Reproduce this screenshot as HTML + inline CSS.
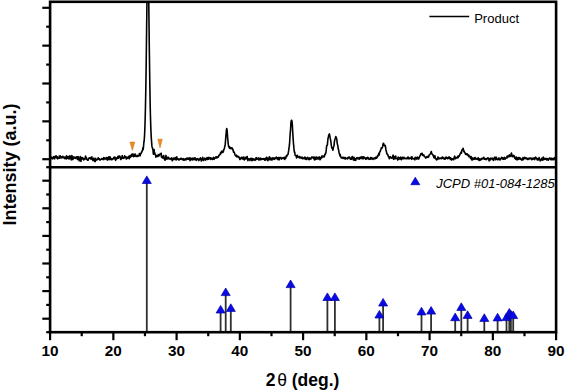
<!DOCTYPE html>
<html><head><meta charset="utf-8"><style>
html,body{margin:0;padding:0;background:#fff;}
body{width:566px;height:391px;overflow:hidden;position:relative;}
svg{position:absolute;left:0;top:0;}
text{font-family:"Liberation Sans",sans-serif;}
</style></head><body>
<svg width="566" height="391" viewBox="0 0 566 391">
<rect width="566" height="391" fill="#fff"/>
<defs><clipPath id="c"><rect x="50" y="1.8" width="506" height="165"/></clipPath></defs>
<polyline clip-path="url(#c)" points="50.10,157.54 50.35,158.43 50.61,158.44 50.86,157.43 51.11,156.96 51.36,157.45 51.62,158.27 51.87,158.56 52.12,157.77 52.38,157.69 52.63,158.40 52.88,158.84 53.14,158.12 53.39,157.19 53.64,156.63 53.89,157.62 54.15,157.99 54.40,158.07 54.65,158.83 54.91,157.19 55.16,156.21 55.41,156.73 55.67,156.56 55.92,155.96 56.17,155.84 56.43,157.52 56.68,158.00 56.93,157.57 57.18,156.83 57.44,158.74 57.69,158.83 57.94,158.43 58.20,158.24 58.45,158.03 58.70,158.24 58.96,158.17 59.21,156.10 59.46,157.21 59.71,158.16 59.97,158.00 60.22,155.85 60.47,156.47 60.73,157.63 60.98,157.08 61.23,157.88 61.49,157.72 61.74,156.83 61.99,157.20 62.24,157.53 62.50,157.30 62.75,156.19 63.00,157.51 63.26,157.62 63.51,157.25 63.76,157.78 64.02,157.07 64.27,157.25 64.52,158.54 64.77,158.09 65.03,157.46 65.28,157.19 65.53,157.92 65.79,158.48 66.04,159.00 66.29,158.92 66.55,155.90 66.80,156.99 67.05,158.20 67.30,157.84 67.56,157.35 67.81,156.66 68.06,156.57 68.32,158.64 68.57,156.97 68.82,156.60 69.08,158.18 69.33,158.86 69.58,157.20 69.83,155.85 70.09,157.05 70.34,156.26 70.59,156.68 70.85,158.06 71.10,159.23 71.35,159.85 71.61,158.71 71.86,155.44 72.11,156.55 72.36,157.70 72.62,158.78 72.87,159.59 73.12,158.78 73.38,157.75 73.63,156.94 73.88,157.91 74.14,157.97 74.39,157.75 74.64,157.60 74.89,157.15 75.15,157.56 75.40,158.38 75.65,158.33 75.91,158.04 76.16,157.81 76.41,157.67 76.66,156.73 76.92,156.91 77.17,157.87 77.42,159.42 77.68,158.47 77.93,157.29 78.18,156.66 78.44,159.19 78.69,159.30 78.94,159.37 79.19,160.82 79.45,159.06 79.70,158.05 79.95,157.51 80.21,156.64 80.46,158.58 80.71,160.49 80.97,161.37 81.22,158.33 81.47,157.48 81.72,157.94 81.98,159.08 82.23,158.02 82.48,157.69 82.74,158.13 82.99,158.07 83.24,158.44 83.50,159.07 83.75,159.90 84.00,158.95 84.25,159.08 84.51,159.44 84.76,158.25 85.01,158.65 85.27,157.99 85.52,156.00 85.77,156.64 86.03,158.25 86.28,159.27 86.53,158.03 86.78,158.94 87.04,159.42 87.29,159.52 87.54,160.23 87.80,160.04 88.05,159.85 88.30,160.04 88.56,159.03 88.81,158.33 89.06,157.94 89.31,157.92 89.57,158.12 89.82,157.97 90.07,157.51 90.33,158.05 90.58,158.51 90.83,158.90 91.09,159.23 91.34,158.75 91.59,157.73 91.85,156.86 92.10,158.55 92.35,159.12 92.60,159.61 92.86,160.37 93.11,159.92 93.36,159.06 93.62,158.24 93.87,158.18 94.12,160.35 94.38,161.06 94.63,160.17 94.88,161.15 95.13,161.63 95.39,160.90 95.64,158.25 95.89,159.21 96.15,159.72 96.40,159.80 96.65,159.91 96.91,159.92 97.16,159.80 97.41,159.51 97.66,159.50 97.92,158.51 98.17,157.74 98.42,158.94 98.68,158.58 98.93,158.71 99.18,159.32 99.44,158.77 99.69,159.35 99.94,160.03 100.19,160.19 100.45,159.73 100.70,159.54 100.95,159.49 101.21,159.27 101.46,158.82 101.71,158.65 101.97,158.85 102.22,158.54 102.47,158.97 102.72,159.42 102.98,159.07 103.23,159.49 103.48,158.81 103.74,157.60 103.99,159.59 104.24,158.93 104.50,157.99 104.75,158.00 105.00,158.47 105.25,158.45 105.51,158.35 105.76,159.11 106.01,158.56 106.27,157.91 106.52,157.50 106.77,157.69 107.03,159.08 107.28,160.07 107.53,158.91 107.78,157.79 108.04,157.85 108.29,158.51 108.54,157.08 108.80,159.09 109.05,159.74 109.30,156.77 109.56,158.57 109.81,159.27 110.06,158.86 110.31,157.05 110.57,158.13 110.82,159.25 111.07,159.76 111.33,159.27 111.58,158.98 111.83,159.04 112.09,159.64 112.34,159.00 112.59,158.75 112.84,158.80 113.10,158.36 113.35,158.80 113.60,158.61 113.86,157.25 114.11,158.80 114.36,158.59 114.62,157.57 114.87,157.02 115.12,158.09 115.37,159.33 115.63,160.31 115.88,159.63 116.13,158.47 116.39,157.94 116.64,159.02 116.89,158.05 117.15,157.76 117.40,158.02 117.65,158.19 117.90,156.46 118.16,156.14 118.41,158.26 118.66,157.14 118.92,156.93 119.17,156.94 119.42,156.22 119.68,156.09 119.93,156.31 120.18,156.94 120.43,158.52 120.69,159.48 120.94,159.40 121.19,157.85 121.45,158.77 121.70,158.44 121.95,157.14 122.20,155.63 122.46,156.87 122.71,158.01 122.96,158.20 123.22,157.39 123.47,157.55 123.72,158.06 123.98,158.28 124.23,157.10 124.48,156.17 124.74,155.82 124.99,156.92 125.24,157.18 125.49,157.12 125.75,156.96 126.00,158.13 126.25,158.97 126.51,159.03 126.76,157.05 127.01,157.53 127.26,158.12 127.52,158.24 127.77,157.96 128.02,158.02 128.28,157.75 128.53,156.35 128.78,157.08 129.04,158.05 129.29,158.74 129.54,157.51 129.80,156.13 130.05,155.64 130.30,156.62 130.55,157.09 130.81,156.70 131.06,155.79 131.31,154.87 131.57,156.31 131.82,156.10 132.07,153.93 132.32,155.52 132.58,155.69 132.83,155.08 133.08,154.07 133.34,156.11 133.59,156.71 133.84,155.89 134.10,154.58 134.35,155.59 134.60,156.21 134.85,155.31 135.11,154.00 135.36,154.24 135.61,155.29 135.87,156.15 136.12,156.54 136.37,156.48 136.63,156.05 136.88,155.90 137.13,156.09 137.38,156.07 137.64,155.37 137.89,156.45 138.14,156.36 138.40,155.52 138.65,155.53 138.90,155.60 139.16,154.98 139.41,153.44 139.66,153.58 139.91,154.81 140.17,155.78 140.42,154.47 140.67,153.59 140.93,153.30 141.18,153.38 141.43,152.28 141.69,152.18 141.94,151.87 142.19,150.49 142.44,150.69 142.70,149.37 142.95,147.73 143.20,149.35 143.46,147.20 143.71,144.23 143.77,143.52 143.84,142.77 143.90,141.98 143.96,141.27 144.03,140.95 144.09,141.56 144.15,140.92 144.22,140.22 144.28,139.46 144.34,138.58 144.41,137.61 144.47,136.56 144.53,135.44 144.60,134.24 144.66,132.95 144.72,131.60 144.79,130.16 144.85,128.61 144.91,126.95 144.97,125.17 145.04,123.22 145.10,121.10 145.16,118.84 145.23,116.45 145.29,113.92 145.35,111.26 145.42,108.60 145.48,105.78 145.54,102.81 145.61,99.69 145.67,96.41 145.73,93.02 145.80,89.51 145.86,85.85 145.92,82.03 145.99,78.06 146.05,73.94 146.11,69.22 146.18,64.37 146.24,59.39 146.30,54.28 146.37,49.07 146.43,43.94 146.49,38.93 146.56,33.85 146.62,28.72 146.68,23.57 146.75,18.41 146.81,13.16 146.87,7.94 146.94,2.79 147.00,-2.25 147.06,-7.15 147.13,-11.85 147.19,-16.31 147.25,-20.00 147.32,-20.00 147.38,-20.00 147.44,-20.00 147.50,-20.00 147.57,-20.00 147.63,-20.00 147.69,-20.00 147.76,-20.00 147.82,-20.00 147.88,-20.00 147.95,-20.00 148.01,-20.00 148.07,-20.00 148.14,-20.00 148.20,-20.00 148.26,-20.00 148.33,-20.00 148.39,-20.00 148.45,-20.00 148.52,-16.07 148.58,-11.61 148.64,-6.95 148.71,-2.10 148.77,2.87 148.83,7.96 148.90,13.21 148.96,18.53 149.02,23.88 149.09,29.22 149.15,34.54 149.21,39.76 149.28,44.74 149.34,49.64 149.40,54.44 149.47,59.14 149.53,63.72 149.59,68.29 149.66,72.78 149.72,77.14 149.78,81.34 149.85,85.39 149.91,89.31 149.97,93.15 150.03,96.84 150.10,100.37 150.16,103.74 150.22,106.95 150.29,109.79 150.35,112.34 150.41,114.74 150.48,116.99 150.54,119.10 150.60,121.09 150.67,123.14 150.73,125.06 150.79,126.86 150.86,128.54 150.92,130.12 150.98,131.62 151.05,133.05 151.11,134.38 151.17,135.63 151.24,136.80 151.30,137.89 151.36,138.86 151.43,139.76 151.49,140.59 151.55,141.37 151.62,142.10 151.68,142.83 151.74,143.66 151.81,144.44 151.87,145.19 151.93,145.90 152.06,146.89 152.31,147.77 152.56,148.20 152.82,149.15 153.07,150.94 153.32,153.82 153.58,154.20 153.83,152.72 154.08,149.51 154.34,151.89 154.59,152.96 154.84,152.96 155.09,154.59 155.35,154.58 155.60,155.13 155.85,157.18 156.11,156.44 156.36,156.22 156.61,156.13 156.87,155.56 157.12,155.34 157.37,155.40 157.62,155.77 157.88,156.58 158.13,156.26 158.38,155.45 158.64,154.55 158.89,155.81 159.14,155.82 159.40,154.94 159.65,154.70 159.90,154.19 160.16,154.02 160.41,154.38 160.66,154.53 160.91,153.48 161.17,153.21 161.42,156.91 161.67,157.21 161.93,156.89 162.18,156.61 162.43,157.94 162.69,158.02 162.94,157.79 163.19,157.85 163.44,155.48 163.70,155.67 163.95,157.51 164.20,158.27 164.46,159.25 164.71,159.95 164.96,160.17 165.21,159.84 165.47,158.20 165.72,156.30 165.97,155.40 166.23,157.58 166.48,158.57 166.73,158.29 166.99,159.16 167.24,158.67 167.49,158.19 167.75,158.52 168.00,157.03 168.25,157.48 168.50,158.72 168.76,157.94 169.01,158.42 169.26,158.89 169.52,158.97 169.77,158.47 170.02,158.59 170.28,158.80 170.53,158.52 170.78,159.15 171.03,159.38 171.29,159.06 171.54,158.13 171.79,157.90 172.05,158.70 172.30,160.82 172.55,159.19 172.81,159.16 173.06,159.82 173.31,159.30 173.56,158.50 173.82,157.97 174.07,157.90 174.32,158.70 174.58,159.04 174.83,159.24 175.08,159.58 175.34,158.03 175.59,157.60 175.84,158.19 176.09,158.65 176.35,159.95 176.60,159.30 176.85,156.78 177.11,158.61 177.36,158.90 177.61,158.58 177.86,159.21 178.12,158.79 178.37,158.75 178.62,159.34 178.88,160.12 179.13,159.79 179.38,159.29 179.64,159.34 179.89,159.32 180.14,158.89 180.40,158.45 180.65,159.30 180.90,159.09 181.15,158.64 181.41,158.28 181.66,158.79 181.91,158.89 182.17,158.97 182.42,159.62 182.67,159.24 182.92,158.83 183.18,158.70 183.43,159.99 183.68,160.13 183.94,160.00 184.19,160.18 184.44,159.78 184.70,159.33 184.95,158.92 185.20,158.73 185.45,158.77 185.71,159.16 185.96,159.91 186.21,159.37 186.47,158.50 186.72,158.01 186.97,158.96 187.23,158.26 187.48,158.35 187.73,159.14 187.99,158.25 188.24,158.00 188.49,158.30 188.74,159.20 189.00,159.10 189.25,158.44 189.50,157.96 189.76,159.53 190.01,160.57 190.26,160.03 190.52,157.93 190.77,160.08 191.02,159.68 191.27,158.56 191.53,158.69 191.78,158.89 192.03,158.56 192.29,158.11 192.54,159.90 192.79,159.93 193.04,159.31 193.30,158.50 193.55,158.80 193.80,158.43 194.06,157.98 194.31,158.74 194.56,159.57 194.82,159.23 195.07,157.70 195.32,158.53 195.57,159.04 195.83,159.48 196.08,160.07 196.33,160.29 196.59,159.74 196.84,158.71 197.09,158.52 197.35,159.08 197.60,159.34 197.85,158.81 198.10,158.84 198.36,159.41 198.61,160.19 198.86,160.58 199.12,159.84 199.37,159.20 199.62,158.97 199.88,159.47 200.13,158.47 200.38,157.78 200.63,158.99 200.89,158.42 201.14,159.37 201.39,161.02 201.65,159.93 201.90,159.40 202.15,159.08 202.41,158.83 202.66,157.31 202.91,158.11 203.16,159.81 203.42,160.40 203.67,159.13 203.92,158.79 204.18,159.61 204.43,159.63 204.68,158.56 204.94,158.12 205.19,159.73 205.44,160.05 205.69,159.74 205.95,159.10 206.20,158.91 206.45,159.31 206.71,158.98 206.96,157.55 207.21,158.61 207.47,159.37 207.72,159.41 207.97,157.90 208.22,159.02 208.48,159.26 208.73,158.31 208.98,157.22 209.24,157.87 209.49,158.48 209.74,157.91 210.00,158.69 210.25,158.45 210.50,157.96 210.75,159.39 211.01,158.67 211.26,158.31 211.51,158.93 211.77,158.30 212.02,158.19 212.27,158.58 212.53,159.54 212.78,159.03 213.03,158.49 213.28,158.04 213.54,157.45 213.79,158.46 214.04,159.30 214.30,158.98 214.55,158.25 214.80,158.14 215.06,158.19 215.31,157.29 215.56,157.09 215.81,157.06 216.07,157.13 216.32,157.79 216.57,157.88 216.83,157.51 217.08,156.68 217.33,157.34 217.59,157.61 217.84,157.37 218.09,156.74 218.34,156.83 218.60,156.58 218.85,155.43 219.10,155.24 219.36,155.20 219.61,155.08 219.86,154.41 220.12,154.47 220.37,153.77 220.62,152.36 220.88,153.77 221.13,152.95 221.38,151.81 221.63,151.95 221.89,151.01 222.14,151.18 222.39,152.17 222.65,152.47 222.90,152.34 223.15,152.06 223.41,151.70 223.66,149.88 223.91,149.24 224.16,149.08 224.42,148.44 224.67,147.01 224.92,145.90 225.18,144.99 225.43,141.86 225.68,138.67 225.93,135.56 226.19,132.92 226.44,129.82 226.69,128.56 226.95,129.34 227.20,131.46 227.45,135.02 227.71,138.50 227.96,141.16 228.21,143.65 228.47,145.77 228.72,146.95 228.97,146.30 229.22,147.16 229.48,147.94 229.73,148.31 229.98,147.27 230.24,147.25 230.49,147.76 230.74,148.58 231.00,148.52 231.25,148.47 231.50,148.34 231.75,147.80 232.01,147.78 232.26,148.40 232.51,149.59 232.77,149.16 233.02,149.73 233.27,150.85 233.53,152.11 233.78,151.81 234.03,151.81 234.28,152.31 234.54,153.27 234.79,154.19 235.04,154.90 235.30,155.28 235.55,155.48 235.80,155.92 236.05,156.15 236.31,155.04 236.56,155.47 236.81,156.26 237.07,157.02 237.32,156.48 237.57,156.22 237.83,156.19 238.08,156.39 238.33,156.66 238.58,157.09 238.84,157.48 239.09,157.00 239.34,157.55 239.60,158.47 239.85,159.46 240.10,158.30 240.36,158.46 240.61,159.07 240.86,158.47 241.12,157.64 241.37,157.45 241.62,157.97 241.87,157.53 242.13,158.22 242.38,158.64 242.63,157.42 242.89,158.87 243.14,159.36 243.39,158.70 243.65,157.04 243.90,158.12 244.15,159.45 244.40,159.94 244.66,158.44 244.91,158.64 245.16,159.08 245.42,157.29 245.67,158.22 245.92,158.34 246.17,157.37 246.43,158.79 246.68,158.15 246.93,157.00 247.19,156.47 247.44,158.33 247.69,159.91 247.95,160.59 248.20,158.73 248.45,159.11 248.70,159.48 248.96,159.04 249.21,158.77 249.46,159.09 249.72,159.73 249.97,160.42 250.22,158.85 250.48,158.49 250.73,159.52 250.98,159.38 251.23,158.50 251.49,158.43 251.74,160.41 251.99,160.69 252.25,159.69 252.50,158.52 252.75,160.27 253.01,159.71 253.26,159.02 253.51,158.94 253.77,160.02 254.02,159.84 254.27,159.26 254.52,159.32 254.78,160.02 255.03,160.32 255.28,160.16 255.54,159.90 255.79,158.72 256.04,157.73 256.30,157.62 256.55,159.33 256.80,159.24 257.05,158.34 257.31,159.04 257.56,158.50 257.81,158.31 258.07,158.81 258.32,158.10 258.57,159.15 258.82,159.97 259.08,158.25 259.33,158.63 259.58,158.88 259.84,158.97 260.09,159.88 260.34,158.79 260.60,158.07 260.85,158.97 261.10,158.85 261.35,159.10 261.61,159.46 261.86,159.42 262.11,158.90 262.37,158.78 262.62,159.17 262.87,158.77 263.13,159.02 263.38,159.28 263.63,158.91 263.88,158.55 264.14,158.60 264.39,158.98 264.64,159.23 264.90,160.25 265.15,160.29 265.40,158.52 265.66,159.03 265.91,159.70 266.16,159.70 266.42,157.39 266.67,157.25 266.92,157.54 267.17,157.93 267.43,158.62 267.68,160.00 267.93,160.68 268.19,159.34 268.44,159.76 268.69,159.47 268.95,158.44 269.20,156.98 269.45,156.75 269.70,157.70 269.96,159.79 270.21,159.23 270.46,158.40 270.72,158.09 270.97,159.65 271.22,158.31 271.48,158.28 271.73,159.84 271.98,160.03 272.23,159.02 272.49,157.99 272.74,157.75 272.99,158.95 273.25,158.74 273.50,157.96 273.75,159.21 274.00,158.36 274.26,158.13 274.51,159.34 274.76,158.86 275.02,158.46 275.27,158.11 275.52,157.80 275.78,158.40 276.03,158.04 276.28,156.95 276.54,157.98 276.79,158.17 277.04,158.36 277.29,159.04 277.55,157.81 277.80,158.42 278.05,159.65 278.31,158.31 278.56,157.61 278.81,158.02 279.06,159.55 279.32,159.71 279.57,158.93 279.82,157.91 280.08,157.43 280.33,157.89 280.58,157.90 280.84,157.51 281.09,157.73 281.34,158.68 281.60,159.12 281.85,158.32 282.10,158.12 282.35,158.10 282.61,158.10 282.86,157.80 283.11,158.21 283.37,158.49 283.62,158.40 283.87,157.53 284.12,157.44 284.38,158.05 284.63,159.47 284.88,158.31 285.14,157.41 285.39,157.21 285.64,158.55 285.90,157.72 286.15,156.49 286.40,155.61 286.65,156.56 286.91,156.11 287.16,155.10 287.41,154.98 287.67,154.99 287.92,154.49 288.17,153.35 288.43,151.85 288.68,150.43 288.93,148.74 289.19,146.52 289.44,144.95 289.69,141.67 289.94,137.14 290.20,133.39 290.45,130.75 290.70,127.19 290.96,122.17 291.21,121.02 291.46,120.27 291.72,120.33 291.97,121.23 292.22,123.38 292.47,127.24 292.73,132.32 292.98,136.41 293.23,140.28 293.49,143.53 293.74,145.82 293.99,148.91 294.25,151.26 294.50,152.63 294.75,152.27 295.00,154.21 295.26,155.52 295.51,155.27 295.76,155.21 296.02,155.48 296.27,156.25 296.52,157.89 296.78,157.71 297.03,156.66 297.28,155.35 297.53,156.68 297.79,156.99 298.04,156.98 298.29,157.03 298.55,156.89 298.80,156.50 299.05,156.38 299.31,157.94 299.56,157.29 299.81,156.84 300.06,157.22 300.32,157.12 300.57,157.07 300.82,157.33 301.08,158.33 301.33,158.25 301.58,157.82 301.83,157.24 302.09,157.10 302.34,157.33 302.59,157.90 302.85,158.87 303.10,158.37 303.35,158.22 303.61,158.22 303.86,157.89 304.11,157.89 304.37,158.08 304.62,158.30 304.87,156.98 305.12,158.13 305.38,159.24 305.63,157.70 305.88,157.73 306.14,158.49 306.39,159.44 306.64,158.74 306.90,158.50 307.15,158.29 307.40,157.90 307.65,157.28 307.91,157.76 308.16,158.80 308.41,159.48 308.67,158.43 308.92,158.41 309.17,159.63 309.43,158.03 309.68,157.74 309.93,158.19 310.18,158.99 310.44,158.73 310.69,158.83 310.94,159.03 311.20,158.09 311.45,157.74 311.70,157.40 311.95,156.87 312.21,157.29 312.46,157.49 312.71,157.48 312.97,157.24 313.22,158.18 313.47,158.45 313.73,157.78 313.98,156.90 314.23,158.74 314.49,159.94 314.74,157.76 314.99,157.38 315.24,158.18 315.50,159.47 315.75,159.41 316.00,158.17 316.26,157.19 316.51,156.98 316.76,157.27 317.02,158.26 317.27,158.99 317.52,158.03 317.77,157.62 318.03,157.68 318.28,158.20 318.53,158.97 318.79,157.91 319.04,157.02 319.29,157.64 319.55,156.99 319.80,158.03 320.05,159.79 320.30,159.52 320.56,158.97 320.81,158.30 321.06,157.60 321.32,158.06 321.57,156.97 321.82,156.06 322.08,157.53 322.33,156.65 322.58,156.05 322.83,156.00 323.09,156.28 323.34,156.41 323.59,156.60 323.85,156.99 324.10,156.83 324.35,156.38 324.61,155.61 324.86,154.36 325.11,154.55 325.36,154.22 325.62,152.99 325.87,152.89 326.12,151.11 326.38,148.52 326.63,145.88 326.88,145.56 327.13,145.44 327.39,144.90 327.64,141.93 327.89,139.48 328.15,137.74 328.40,136.92 328.65,135.49 328.91,134.64 329.16,134.27 329.41,133.97 329.67,135.02 329.92,136.48 330.17,137.99 330.42,139.06 330.68,140.34 330.93,141.99 331.18,144.29 331.44,146.15 331.69,147.35 331.94,147.99 332.20,148.45 332.45,148.70 332.70,149.22 332.95,150.23 333.21,148.13 333.46,147.05 333.71,146.51 333.97,145.84 334.22,143.44 334.47,141.38 334.73,140.09 334.98,139.24 335.23,138.56 335.48,137.79 335.74,136.60 335.99,136.79 336.24,137.41 336.50,138.24 336.75,138.84 337.00,141.51 337.25,143.76 337.51,144.60 337.76,145.32 338.01,147.22 338.27,149.13 338.52,149.39 338.77,150.81 339.03,152.35 339.28,153.69 339.53,153.78 339.79,155.13 340.04,155.88 340.29,154.61 340.54,155.95 340.80,156.79 341.05,157.27 341.30,158.03 341.56,158.00 341.81,157.73 342.06,157.41 342.32,157.40 342.57,157.39 342.82,157.61 343.07,158.45 343.33,157.54 343.58,157.42 343.83,158.09 344.09,157.73 344.34,157.83 344.59,157.89 344.85,157.60 345.10,159.15 345.35,158.73 345.60,157.45 345.86,158.07 346.11,158.21 346.36,158.34 346.62,158.55 346.87,158.47 347.12,158.45 347.38,158.56 347.63,158.94 347.88,157.51 348.13,157.28 348.39,158.02 348.64,157.22 348.89,157.77 349.15,158.02 349.40,157.11 349.65,157.26 349.90,157.69 350.16,158.37 350.41,159.33 350.66,159.03 350.92,158.67 351.17,158.57 351.42,159.30 351.68,158.47 351.93,157.19 352.18,156.46 352.44,157.42 352.69,157.97 352.94,158.22 353.19,159.21 353.45,159.90 353.70,159.37 353.95,157.17 354.21,159.66 354.46,160.21 354.71,159.65 354.97,159.19 355.22,158.86 355.47,159.35 355.72,160.42 355.98,158.90 356.23,158.21 356.48,158.10 356.74,158.51 356.99,157.61 357.24,157.85 357.50,158.77 357.75,158.40 358.00,158.55 358.25,158.73 358.51,158.73 358.76,157.81 359.01,158.48 359.27,159.23 359.52,157.72 359.77,158.62 360.03,158.45 360.28,157.16 360.53,158.44 360.78,158.23 361.04,157.92 361.29,158.48 361.54,158.07 361.80,157.31 362.05,156.64 362.30,157.34 362.56,158.10 362.81,158.69 363.06,158.98 363.31,157.62 363.57,156.88 363.82,156.80 364.07,157.61 364.33,158.08 364.58,158.16 364.83,157.90 365.09,157.79 365.34,158.55 365.59,159.26 365.84,159.33 366.10,159.19 366.35,158.47 366.60,157.74 366.86,158.39 367.11,158.35 367.36,157.89 367.62,157.22 367.87,158.71 368.12,158.84 368.37,158.36 368.63,157.98 368.88,159.06 369.13,159.41 369.39,159.05 369.64,159.10 369.89,159.27 370.15,159.28 370.40,158.96 370.65,157.66 370.90,157.49 371.16,158.12 371.41,159.01 371.66,158.17 371.92,157.77 372.17,158.26 372.42,158.47 372.68,159.00 372.93,159.42 373.18,159.30 373.43,159.03 373.69,158.51 373.94,158.00 374.19,158.69 374.45,158.62 374.70,158.26 374.95,157.79 375.20,158.74 375.46,158.71 375.71,158.04 375.96,157.16 376.22,158.11 376.47,158.24 376.72,157.29 376.98,157.71 377.23,156.74 377.48,155.91 377.74,156.63 377.99,155.79 378.24,155.11 378.49,154.51 378.75,153.32 379.00,154.62 379.25,154.85 379.51,152.62 379.76,152.09 380.01,151.80 380.27,151.36 380.52,150.04 380.77,149.90 381.02,149.20 381.28,147.92 381.53,148.61 381.78,148.20 382.04,147.66 382.29,147.70 382.54,146.92 382.80,145.61 383.05,144.13 383.30,143.32 383.55,143.35 383.81,143.99 384.06,145.16 384.31,145.29 384.57,145.76 384.82,146.05 385.07,145.35 385.33,145.74 385.58,147.21 385.83,149.41 386.08,150.58 386.34,151.42 386.59,152.38 386.84,153.78 387.10,154.16 387.35,154.23 387.60,154.27 387.86,154.91 388.11,155.86 388.36,156.52 388.61,156.72 388.87,156.83 389.12,157.99 389.37,158.73 389.63,157.19 389.88,157.35 390.13,157.16 390.38,156.65 390.64,157.11 390.89,157.68 391.14,158.09 391.40,158.15 391.65,157.71 391.90,157.76 392.16,158.02 392.41,157.83 392.66,156.76 392.92,155.69 393.17,155.13 393.42,158.79 393.67,159.28 393.93,158.45 394.18,157.90 394.43,156.86 394.69,156.54 394.94,157.07 395.19,158.80 395.44,157.13 395.70,156.11 395.95,157.73 396.20,158.52 396.46,158.53 396.71,158.28 396.96,158.69 397.22,158.27 397.47,158.75 397.72,160.06 397.98,157.85 398.23,157.05 398.48,157.25 398.73,158.33 398.99,159.11 399.24,158.92 399.49,158.25 399.75,158.98 400.00,158.33 400.25,157.55 400.51,157.18 400.76,158.87 401.01,159.56 401.26,159.64 401.52,159.63 401.77,158.52 402.02,157.64 402.28,157.23 402.53,157.23 402.78,157.67 403.04,158.27 403.29,158.80 403.54,158.78 403.79,158.05 404.05,157.23 404.30,158.29 404.55,158.42 404.81,158.38 405.06,158.42 405.31,158.34 405.57,158.24 405.82,158.29 406.07,158.80 406.32,158.59 406.58,158.46 406.83,158.44 407.08,157.84 407.34,158.20 407.59,158.53 407.84,158.19 408.10,156.92 408.35,157.36 408.60,158.61 408.85,158.12 409.11,158.66 409.36,158.78 409.61,158.10 409.87,158.14 410.12,158.28 410.37,158.37 410.62,158.22 410.88,157.94 411.13,157.35 411.38,156.90 411.64,159.26 411.89,158.16 412.14,157.04 412.40,157.84 412.65,158.48 412.90,158.62 413.16,158.50 413.41,158.61 413.66,158.73 413.91,158.93 414.17,159.18 414.42,158.53 414.67,159.48 414.93,159.89 415.18,157.33 415.43,157.84 415.69,158.00 415.94,157.65 416.19,157.51 416.44,157.88 416.70,158.48 416.95,159.21 417.20,157.76 417.46,157.18 417.71,157.34 417.96,158.20 418.22,158.15 418.47,158.40 418.72,159.05 418.97,158.26 419.23,157.50 419.48,156.78 419.73,156.12 419.99,156.09 420.24,155.74 420.49,155.00 420.75,153.82 421.00,153.94 421.25,154.06 421.50,153.65 421.76,153.41 422.01,153.24 422.26,153.55 422.52,155.13 422.77,155.05 423.02,155.15 423.28,155.59 423.53,154.98 423.78,154.90 424.03,155.24 424.29,156.04 424.54,156.68 424.79,156.85 425.05,156.76 425.30,157.02 425.55,157.76 425.81,158.12 426.06,157.74 426.31,156.94 426.56,156.90 426.82,157.12 427.07,156.94 427.32,157.35 427.58,157.10 427.83,156.28 428.08,156.75 428.34,157.13 428.59,157.07 428.84,156.31 429.09,155.30 429.35,154.69 429.60,154.43 429.85,154.36 430.11,154.07 430.36,153.76 430.61,153.49 430.87,152.52 431.12,151.64 431.37,151.66 431.62,153.70 431.88,153.65 432.13,153.85 432.38,154.48 432.64,154.99 432.89,154.87 433.14,154.99 433.39,155.91 433.65,156.67 433.90,157.44 434.15,157.97 434.41,157.55 434.66,155.90 434.91,155.72 435.17,157.60 435.42,158.07 435.67,158.67 435.93,159.04 436.18,158.70 436.43,159.76 436.68,159.97 436.94,159.40 437.19,159.37 437.44,159.18 437.70,158.46 437.95,156.96 438.20,158.41 438.46,158.89 438.71,158.61 438.96,157.89 439.21,158.40 439.47,158.75 439.72,158.61 439.97,158.04 440.23,158.03 440.48,158.16 440.73,158.08 440.99,158.38 441.24,158.30 441.49,158.05 441.74,158.68 442.00,157.58 442.25,157.04 442.50,158.08 442.76,157.17 443.01,157.33 443.26,158.08 443.52,158.73 443.77,158.55 444.02,158.34 444.27,158.28 444.53,158.40 444.78,159.13 445.03,159.22 445.29,157.48 445.54,158.61 445.79,158.30 446.05,157.14 446.30,157.82 446.55,158.29 446.80,158.26 447.06,157.63 447.31,158.32 447.56,158.78 447.82,158.71 448.07,157.46 448.32,157.94 448.58,158.21 448.83,157.92 449.08,156.90 449.33,157.45 449.59,158.06 449.84,157.66 450.09,158.98 450.35,158.73 450.60,157.89 450.85,159.56 451.11,158.70 451.36,158.55 451.61,160.04 451.86,159.13 452.12,158.77 452.37,158.79 452.62,159.01 452.88,159.08 453.13,159.27 453.38,159.57 453.63,159.77 453.89,158.81 454.14,157.71 454.39,157.11 454.65,156.17 454.90,156.66 455.15,157.97 455.41,158.69 455.66,158.58 455.91,158.33 456.17,158.12 456.42,157.77 456.67,157.49 456.92,157.36 457.18,157.52 457.43,157.86 457.68,157.23 457.94,156.13 458.19,157.60 458.44,156.74 458.69,155.95 458.95,156.54 459.20,155.94 459.45,155.57 459.71,155.21 459.96,154.31 460.21,153.67 460.47,153.34 460.72,153.25 460.97,152.05 461.23,152.82 461.48,153.19 461.73,150.72 461.98,149.93 462.24,149.51 462.49,149.29 462.74,148.92 463.00,148.30 463.25,148.62 463.50,150.47 463.76,151.33 464.01,151.26 464.26,151.11 464.51,152.56 464.77,152.42 465.02,152.70 465.27,153.67 465.53,154.10 465.78,154.34 466.03,154.43 466.28,154.40 466.54,153.69 466.79,153.94 467.04,154.70 467.30,153.96 467.55,154.40 467.80,155.08 468.06,155.62 468.31,155.32 468.56,155.05 468.82,155.25 469.07,156.83 469.32,156.32 469.57,156.10 469.83,156.47 470.08,156.54 470.33,157.60 470.59,158.37 470.84,157.84 471.09,156.62 471.35,157.24 471.60,159.05 471.85,159.98 472.10,160.06 472.36,159.35 472.61,157.92 472.86,158.37 473.12,158.73 473.37,159.03 473.62,159.30 473.88,158.86 474.13,158.23 474.38,157.75 474.63,158.97 474.89,159.23 475.14,158.74 475.39,157.49 475.65,158.08 475.90,158.59 476.15,158.90 476.41,158.73 476.66,159.00 476.91,159.28 477.16,159.44 477.42,159.29 477.67,158.96 477.92,158.43 478.18,157.64 478.43,158.73 478.68,159.61 478.93,160.11 479.19,160.49 479.44,159.61 479.69,158.79 479.95,158.80 480.20,159.76 480.45,160.14 480.71,159.98 480.96,159.27 481.21,159.36 481.47,159.06 481.72,158.24 481.97,159.12 482.22,158.76 482.48,158.26 482.73,158.71 482.98,158.76 483.24,158.65 483.49,158.30 483.74,157.23 484.00,157.63 484.25,158.44 484.50,159.19 484.75,158.94 485.01,158.71 485.26,158.67 485.51,159.21 485.77,159.44 486.02,159.58 486.27,159.58 486.53,158.51 486.78,158.57 487.03,158.86 487.28,158.63 487.54,158.29 487.79,157.91 488.04,157.73 488.30,158.64 488.55,158.44 488.80,158.94 489.06,160.84 489.31,159.37 489.56,158.79 489.81,158.70 490.07,158.59 490.32,159.86 490.57,159.73 490.83,158.14 491.08,158.65 491.33,158.51 491.58,158.39 491.84,158.81 492.09,158.89 492.34,159.33 492.60,159.63 492.85,157.99 493.10,158.40 493.36,159.37 493.61,160.35 493.86,158.97 494.12,158.63 494.37,158.66 494.62,158.20 494.87,157.15 495.13,157.41 495.38,158.95 495.63,159.78 495.89,159.22 496.14,158.21 496.39,157.31 496.64,158.61 496.90,159.11 497.15,159.13 497.40,159.73 497.66,159.79 497.91,159.42 498.16,158.72 498.42,159.15 498.67,158.34 498.92,157.85 499.18,159.74 499.43,159.38 499.68,159.39 499.93,159.89 500.19,159.87 500.44,159.20 500.69,158.67 500.95,158.75 501.20,158.27 501.45,157.61 501.71,157.27 501.96,158.51 502.21,158.86 502.46,158.59 502.72,157.90 502.97,159.05 503.22,159.13 503.48,158.89 503.73,159.10 503.98,158.36 504.23,157.61 504.49,157.27 504.74,158.88 504.99,159.14 505.25,158.83 505.50,158.30 505.75,158.02 506.01,157.92 506.26,157.92 506.51,157.90 506.77,157.59 507.02,156.87 507.27,155.97 507.52,157.63 507.78,156.96 508.03,156.00 508.28,156.56 508.54,156.42 508.79,156.41 509.04,156.30 509.30,154.87 509.55,155.83 509.80,156.59 510.05,156.05 510.31,155.98 510.56,156.09 510.81,155.91 511.07,154.53 511.32,153.05 511.57,153.40 511.83,155.60 512.08,156.37 512.33,156.64 512.58,156.40 512.84,155.50 513.09,155.92 513.34,156.40 513.60,156.57 513.85,155.41 514.10,155.93 514.36,156.56 514.61,156.80 514.86,158.41 515.11,158.13 515.37,157.58 515.62,159.15 515.87,158.54 516.13,157.58 516.38,156.98 516.63,159.59 516.88,158.82 517.14,157.88 517.39,158.96 517.64,159.73 517.90,159.21 518.15,157.98 518.40,157.56 518.66,158.70 518.91,159.28 519.16,158.65 519.42,157.83 519.67,157.62 519.92,157.83 520.17,158.28 520.43,159.13 520.68,159.15 520.93,158.52 521.19,159.14 521.44,159.79 521.69,160.11 521.94,159.87 522.20,159.97 522.45,159.94 522.70,159.45 522.96,157.60 523.21,158.82 523.46,159.58 523.72,159.02 523.97,158.72 524.22,158.21 524.48,157.67 524.73,157.34 524.98,157.60 525.23,158.12 525.49,158.62 525.74,157.87 525.99,157.87 526.25,158.06 526.50,158.19 526.75,159.02 527.00,158.96 527.26,158.50 527.51,158.60 527.76,159.42 528.02,159.44 528.27,158.50 528.52,159.10 528.78,158.53 529.03,158.07 529.28,158.97 529.53,158.91 529.79,158.86 530.04,158.83 530.29,158.41 530.55,158.03 530.80,158.00 531.05,158.47 531.31,158.36 531.56,158.94 531.81,159.65 532.07,159.57 532.32,158.38 532.57,158.23 532.82,159.24 533.08,158.52 533.33,158.75 533.58,158.96 533.84,158.35 534.09,157.71 534.34,158.34 534.60,159.60 534.85,159.24 535.10,158.29 535.35,157.47 535.61,157.08 535.86,157.96 536.11,158.01 536.37,157.83 536.62,158.37 536.87,158.99 537.12,159.59 537.38,159.95 537.63,158.76 537.88,159.26 538.14,159.95 538.39,159.82 538.64,158.81 538.90,157.91 539.15,157.58 539.40,159.22 539.65,159.40 539.91,159.80 540.16,160.86 540.41,160.26 540.67,159.78 540.92,159.64 541.17,160.23 541.43,158.70 541.68,158.24 541.93,158.91 542.18,158.60 542.44,159.50 542.69,160.07 542.94,159.30 543.20,156.98 543.45,157.73 543.70,159.70 543.96,158.22 544.21,158.87 544.46,159.12 544.72,158.38 544.97,158.85 545.22,159.17 545.47,159.27 545.73,158.98 545.98,158.28 546.23,158.73 546.49,159.95 546.74,159.30 546.99,158.94 547.25,158.95 547.50,159.42 547.75,158.62 548.00,159.27 548.26,160.24 548.51,159.16 548.76,159.07 549.02,159.11 549.27,159.04 549.52,158.22 549.77,157.85 550.03,158.01 550.28,158.92 550.53,159.07 550.79,159.46 551.04,159.91 551.29,159.33 551.55,158.42 551.80,158.23 552.05,159.27 552.31,159.47 552.56,159.61 552.81,159.59 553.06,159.16 553.32,158.23 553.57,158.43 553.82,159.73 554.08,158.50 554.33,158.74 554.58,158.86 554.83,157.46 555.09,158.81 555.34,158.92 555.59,158.30 555.85,159.52 556.10,160.12" fill="none" stroke="#000" stroke-width="1.6" stroke-linejoin="round"/>
<g stroke="#303030" stroke-width="1.8"><line x1="146.8" y1="182.5" x2="146.8" y2="332"/><line x1="220.6" y1="312.0" x2="220.6" y2="332"/><line x1="225.7" y1="294.6" x2="225.7" y2="332"/><line x1="230.8" y1="310.4" x2="230.8" y2="332"/><line x1="290.6" y1="286.6" x2="290.6" y2="332"/><line x1="327.4" y1="299.5" x2="327.4" y2="332"/><line x1="334.9" y1="299.5" x2="334.9" y2="332"/><line x1="379.4" y1="317.0" x2="379.4" y2="332"/><line x1="383.1" y1="305.0" x2="383.1" y2="332"/><line x1="421.5" y1="313.9" x2="421.5" y2="332"/><line x1="431.1" y1="313.1" x2="431.1" y2="332"/><line x1="455.2" y1="319.7" x2="455.2" y2="332"/><line x1="461.3" y1="309.4" x2="461.3" y2="332"/><line x1="467.6" y1="317.4" x2="467.6" y2="332"/><line x1="484.3" y1="320.4" x2="484.3" y2="332"/><line x1="497.6" y1="319.9" x2="497.6" y2="332"/><line x1="506.5" y1="319.6" x2="506.5" y2="332"/><line x1="509.3" y1="315.1" x2="509.3" y2="332"/><line x1="510.9" y1="317.1" x2="510.9" y2="332"/><line x1="513.2" y1="317.6" x2="513.2" y2="332"/></g>
<g fill="#0a0ae6" stroke="#0000a8" stroke-width="0.7" stroke-linejoin="miter"><polygon points="146.8,175.9 142.3,183.5 151.3,183.5"/><polygon points="220.6,305.4 216.1,313.0 225.1,313.0"/><polygon points="225.7,288.0 221.2,295.6 230.2,295.6"/><polygon points="230.8,303.8 226.3,311.4 235.3,311.4"/><polygon points="290.6,280.0 286.1,287.6 295.1,287.6"/><polygon points="327.4,292.9 322.9,300.5 331.9,300.5"/><polygon points="334.9,292.9 330.4,300.5 339.4,300.5"/><polygon points="379.4,310.4 374.9,318.0 383.9,318.0"/><polygon points="383.1,298.4 378.6,306.0 387.6,306.0"/><polygon points="421.5,307.3 417.0,314.9 426.0,314.9"/><polygon points="431.1,306.5 426.6,314.1 435.6,314.1"/><polygon points="455.2,313.1 450.7,320.7 459.7,320.7"/><polygon points="461.3,302.8 456.8,310.4 465.8,310.4"/><polygon points="467.6,310.8 463.1,318.4 472.1,318.4"/><polygon points="484.3,313.8 479.8,321.4 488.8,321.4"/><polygon points="497.6,313.3 493.1,320.9 502.1,320.9"/><polygon points="506.5,313.0 502.0,320.6 511.0,320.6"/><polygon points="509.3,308.5 504.8,316.1 513.8,316.1"/><polygon points="510.9,310.5 506.4,318.1 515.4,318.1"/><polygon points="513.2,311.0 508.7,318.6 517.7,318.6"/></g>
<g stroke="#000" stroke-width="2.2" stroke-linecap="butt"><line x1="42.3" y1="7.8" x2="50" y2="7.8"/><line x1="42.3" y1="45.65" x2="50" y2="45.65"/><line x1="42.3" y1="83.5" x2="50" y2="83.5"/><line x1="42.3" y1="121.35" x2="50" y2="121.35"/><line x1="42.3" y1="159.2" x2="50" y2="159.2"/><line x1="42.3" y1="180.7" x2="50" y2="180.7"/><line x1="42.3" y1="208.3" x2="50" y2="208.3"/><line x1="42.3" y1="235.9" x2="50" y2="235.9"/><line x1="42.3" y1="263.5" x2="50" y2="263.5"/><line x1="42.3" y1="291.1" x2="50" y2="291.1"/><line x1="42.3" y1="318.7" x2="50" y2="318.7"/><line x1="46.2" y1="26.7" x2="50" y2="26.7"/><line x1="46.2" y1="64.6" x2="50" y2="64.6"/><line x1="46.2" y1="102.4" x2="50" y2="102.4"/><line x1="46.2" y1="140.3" x2="50" y2="140.3"/><line x1="46.2" y1="167.2" x2="50" y2="167.2"/><line x1="46.2" y1="194.5" x2="50" y2="194.5"/><line x1="46.2" y1="222.1" x2="50" y2="222.1"/><line x1="46.2" y1="249.7" x2="50" y2="249.7"/><line x1="46.2" y1="277.3" x2="50" y2="277.3"/><line x1="46.2" y1="304.9" x2="50" y2="304.9"/><line x1="46.2" y1="332.2" x2="50" y2="332.2"/><line x1="50.10" y1="332" x2="50.10" y2="340.2"/><line x1="81.72" y1="332" x2="81.72" y2="336.2"/><line x1="113.35" y1="332" x2="113.35" y2="340.2"/><line x1="144.97" y1="332" x2="144.97" y2="336.2"/><line x1="176.60" y1="332" x2="176.60" y2="340.2"/><line x1="208.22" y1="332" x2="208.22" y2="336.2"/><line x1="239.85" y1="332" x2="239.85" y2="340.2"/><line x1="271.48" y1="332" x2="271.48" y2="336.2"/><line x1="303.10" y1="332" x2="303.10" y2="340.2"/><line x1="334.73" y1="332" x2="334.73" y2="336.2"/><line x1="366.35" y1="332" x2="366.35" y2="340.2"/><line x1="397.98" y1="332" x2="397.98" y2="336.2"/><line x1="429.60" y1="332" x2="429.60" y2="340.2"/><line x1="461.23" y1="332" x2="461.23" y2="336.2"/><line x1="492.85" y1="332" x2="492.85" y2="340.2"/><line x1="524.48" y1="332" x2="524.48" y2="336.2"/><line x1="556.10" y1="332" x2="556.10" y2="340.2"/></g>
<g fill="none" stroke="#000" stroke-width="2.6">
<rect x="50.1" y="1.8" width="506.0" height="330.4"/>
<line x1="50.1" y1="167.2" x2="556.1" y2="167.2"/>
</g>
<g font-weight="bold" font-size="15.3" text-anchor="middle" fill="#000"><text x="50.10" y="355.5">10</text><text x="113.35" y="355.5">20</text><text x="176.60" y="355.5">30</text><text x="239.85" y="355.5">40</text><text x="303.10" y="355.5">50</text><text x="366.35" y="355.5">60</text><text x="429.60" y="355.5">70</text><text x="492.85" y="355.5">80</text><text x="556.10" y="355.5">90</text></g>
<text x="0" y="0" transform="translate(16.2,164.5) rotate(-90)" font-weight="bold" font-size="18" text-anchor="middle">Intensity (a.u.)</text>
<text x="302.6" y="386" font-weight="bold" font-size="17.5" text-anchor="middle">2<tspan font-weight="normal" dx="1.6">θ</tspan><tspan dx="0"> (deg.)</tspan></text>
<line x1="429.4" y1="16.5" x2="469.2" y2="16.5" stroke="#000" stroke-width="1.4"/>
<text x="474.2" y="22.7" font-size="13">Product</text>
<polygon points="415.3,177.2 410.8,184.7 419.8,184.7" fill="#0a0ae6" stroke="#0000a8" stroke-width="0.7"/>
<polygon points="129.9,142.1 134.8,142.1 132.4,150.5" fill="#ef8c1e" stroke="#c86e10" stroke-width="0.5"/>
<polygon points="157.8,139.2 162.3,139.2 160,147.9" fill="#ef8c1e" stroke="#c86e10" stroke-width="0.5"/>
<text x="436.2" y="187.7" font-size="13" font-style="italic">JCPD #01-084-1285</text>
</svg>
</body></html>
